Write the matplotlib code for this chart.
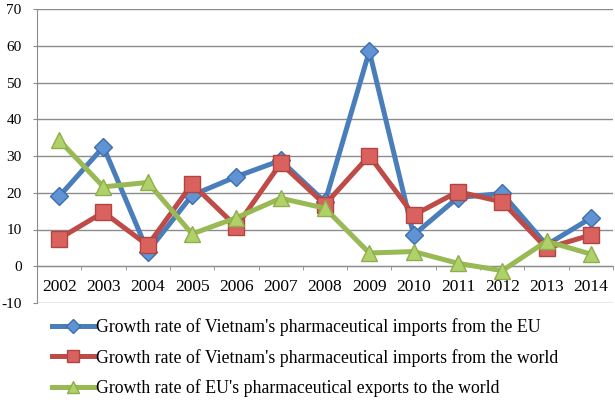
import matplotlib
matplotlib.use("Agg")
import matplotlib.pyplot as plt
from matplotlib.ticker import FixedLocator

plt.rcParams['font.family'] = ['Liberation Serif', 'DejaVu Serif']

years = ['2002', '2003', '2004', '2005', '2006', '2007', '2008',
         '2009', '2010', '2011', '2012', '2013', '2014']
vn_imports_eu = [19, 32.5, 4, 19.3, 24.4, 28.8, 17.5, 58.5, 8.5, 18.7, 19.8, 5.8, 13.1]
vn_imports_world = [7.5, 14.7, 5.7, 22.4, 10.8, 28, 16.8, 30.1, 13.9, 20.3, 17.5, 4.9, 8.5]
eu_exports_world = [34.3, 21.6, 22.8, 8.8, 13.2, 18.5, 15.8, 3.6, 4, 0.8, -1.2, 6.8, 3.3]

labels = ["Growth rate of Vietnam's pharmaceutical imports from the EU",
          "Growth rate of Vietnam's pharmaceutical imports from the world",
          "Growth rate of EU's pharmaceutical exports to the world"]
yticks = [-10, 0, 10, 20, 30, 40, 50, 60, 70]

fig = plt.figure(figsize=(6.15, 4.03), dpi=100)
ax = fig.add_axes([37/615, 1 - 303/403, (613-37)/615, (303-9)/403])

x = list(range(len(years)))
styles = [
    dict(color='#4A7EBB', marker='D', ms=9, mfc='#5F93D3', mec='#3D6FAD'),
    dict(color='#BE4B48', marker='s', ms=11, mfc='#DA625E', mec='#B04440'),
    dict(color='#98B954', marker='^', ms=12, mfc='#B0D16A', mec='#8EAE4C'),
]
handles = []
for series, st, lab in zip([vn_imports_eu, vn_imports_world, eu_exports_world], styles, labels):
    h, = ax.plot(x, series, color=st['color'], lw=3.6, marker=st['marker'],
                 ms=st['ms'], mfc=st['mfc'], mec=st['mec'], mew=1.0,
                 label=lab, solid_joinstyle='miter', zorder=3)
    handles.append(h)

ax.set_xlim(-0.5, len(years) - 0.5)
ax.set_ylim(-10, 70)
ax.set_yticks(yticks)
ax.set_yticklabels([str(v) for v in yticks])
ax.yaxis.grid(True, color='#8C8C8C', lw=1.0)
ax.set_axisbelow(True)

for s in ['top', 'right']:
    ax.spines[s].set_visible(False)
ax.spines['left'].set_color('#8C8C8C')
ax.spines['bottom'].set_color('#8C8C8C')
ax.spines['bottom'].set_position(('data', 0))

ax.set_xticks(x)
ax.set_xticklabels(years)
ax.xaxis.set_minor_locator(FixedLocator([i + 0.5 for i in range(-1, len(years))]))
ax.tick_params(axis='x', which='major', length=0, pad=9.5, labelsize=12.5)
ax.tick_params(axis='x', which='minor', length=3, color='#8C8C8C', direction='out')
ax.tick_params(axis='y', length=3, color='#8C8C8C', pad=8, labelsize=11)

fig.legend(handles=handles, loc='upper left', bbox_to_anchor=(52/615, 1 - 318/403),
           frameon=False, fontsize=12.8, handlelength=2.35, handletextpad=0.12,
           labelspacing=0.72, borderaxespad=0, borderpad=0, markerscale=0.75)

fig.savefig('out.png', dpi=100)
